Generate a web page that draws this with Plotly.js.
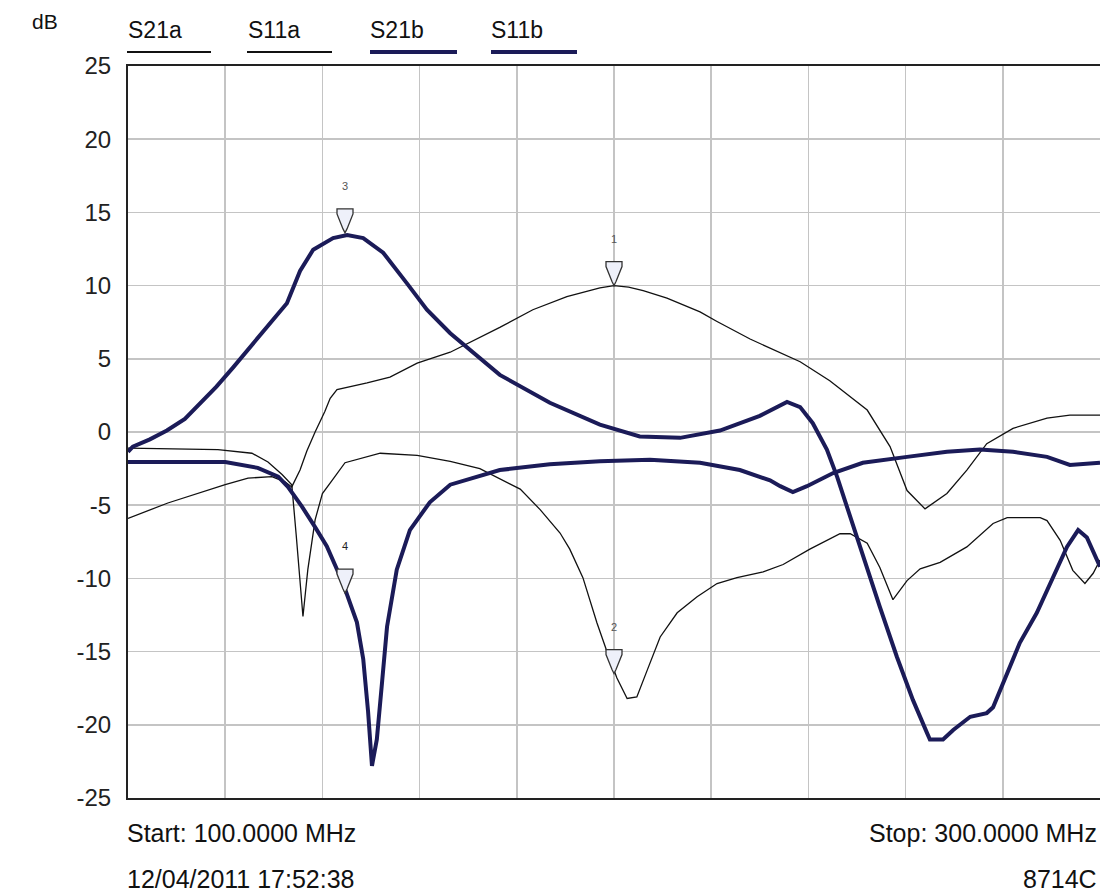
<!DOCTYPE html>
<html>
<head>
<meta charset="utf-8">
<script src="https://cdn.plot.ly/plotly-3.0.1.min.js"></script>
<style>
html,body{margin:0;padding:0;background:#fff;}
#chart{width:1100px;height:893px;}
</style>
</head>
<body>
<div id="chart"></div>
<script>
// ---- data (frequency in MHz, level in dB) ----
const freqS21a = [100.0,108.2,120.0,124.7,129.6,132.3,133.7,135.4,136.8,138.5,140.5,141.6,143.0,149.2,153.9,159.5,166.3,176.5,183.3,190.3,197.1,200.0,203.0,206.0,210.9,217.7,221.2,228.0,238.3,244.4,252.1,256.8,260.3,264.0,268.5,272.6,276.7,282.1,289.1,293.8,300.0];
const dbS21a   = [-5.9,-4.85,-3.6,-3.15,-3.05,-3.4,-3.75,-2.6,-1.3,0.0,1.4,2.3,2.9,3.35,3.75,4.7,5.45,7.15,8.35,9.25,9.85,10.0,9.9,9.65,9.15,8.2,7.55,6.35,4.8,3.5,1.5,-1.0,-4.0,-5.25,-4.2,-2.6,-0.8,0.25,0.95,1.15,1.15];

const freqS11a = [100.0,118.5,125.5,128.8,131.7,133.7,134.6,135.4,136.0,136.5,137.0,138.5,140.0,142.0,144.65,151.9,159.5,166.3,172.4,180.7,184.8,188.9,190.9,193.6,196.5,198.6,200.6,202.7,204.7,206.8,209.5,213.0,217.1,221.2,225.3,230.7,234.8,240.3,246.5,248.6,252.1,254.7,257.4,260.3,263.0,267.1,272.6,278.0,280.9,287.7,289.1,291.8,294.4,296.9,298.6,300.0];
const dbS11a   = [-1.1,-1.2,-1.45,-2.05,-2.9,-3.6,-7.0,-10.0,-12.6,-11.0,-9.4,-6.0,-4.2,-3.3,-2.1,-1.45,-1.6,-2.0,-2.5,-3.9,-5.3,-6.9,-8.0,-9.95,-13.05,-15.05,-16.8,-18.2,-18.1,-16.3,-14.0,-12.35,-11.25,-10.35,-9.95,-9.55,-9.05,-8.0,-6.95,-6.95,-7.6,-9.25,-11.45,-10.15,-9.35,-8.9,-7.85,-6.25,-5.85,-5.85,-6.05,-7.4,-9.45,-10.35,-9.65,-8.75];

const freqS21b = [100.0,101.0,104.5,108.0,111.7,114.8,118.2,121.6,125.1,128.6,132.7,135.4,138.1,142.2,145.1,148.4,152.5,157.4,161.5,166.3,176.5,186.8,197.1,205.3,213.6,221.8,230.0,235.6,238.3,240.9,243.8,245.9,247.9,251.2,254.7,258.2,261.5,264.4,265.0,267.7,269.8,273.3,276.7,278.0,280.9,283.5,287.0,290.3,293.2,295.5,297.3,300.0];
const dbS21b   = [-1.35,-1.0,-0.5,0.1,0.9,1.95,3.1,4.4,5.8,7.15,8.8,11.0,12.45,13.25,13.45,13.25,12.25,10.15,8.35,6.75,3.9,2.0,0.5,-0.3,-0.4,0.1,1.1,2.05,1.7,0.6,-1.2,-3.05,-5.1,-8.5,-11.95,-15.35,-18.3,-20.55,-21.0,-21.0,-20.35,-19.45,-19.2,-18.8,-16.5,-14.4,-12.35,-9.9,-7.85,-6.7,-7.2,-9.2];

const freqS11b = [100.0,120.0,126.7,130.9,132.9,135.8,138.5,140.9,144.2,147.1,148.4,149.4,150.2,151.2,152.3,153.3,155.3,158.0,162.1,166.3,176.5,186.8,197.1,207.4,217.7,225.9,232.1,234.2,236.8,239.7,245.1,251.2,260.3,268.5,275.3,282.1,289.1,293.8,300.0];
const dbS11b   = [-2.05,-2.05,-2.45,-3.05,-3.75,-5.1,-6.5,-7.8,-10.3,-13.0,-15.5,-19.1,-22.8,-21.0,-17.0,-13.3,-9.4,-6.7,-4.8,-3.6,-2.6,-2.2,-2.0,-1.9,-2.1,-2.6,-3.3,-3.7,-4.1,-3.7,-2.8,-2.1,-1.7,-1.35,-1.2,-1.35,-1.7,-2.25,-2.1];

const markerNames = ['1','2','3','4'];
const markerFreq  = [200.0, 200.0, 144.65, 144.65];
const markerDb    = [10.0, -16.5, 13.6, -11.0];

const legendNames = ['S21a','S11a','S21b','S11b'];
const yTickVals   = [-25,-20,-15,-10,-5,0,5,10,15,20,25];
const yTickText   = ['-25','-20','-15','-10','-5','0','5','10','15','20','25'];
const startLabel  = 'Start: 100.0000 MHz';
const stopLabel   = 'Stop: 300.0000 MHz';
const dateLabel   = '12/04/2011 17:52:38';
const modelLabel  = '8714C';
const unitLabel   = 'dB';

// ---- styling / layout ----
const PL = 128, PT = 66, PW = 972, PH = 732;
const px = x => (x - PL) / PW;
const py = y => (PT + PH - y) / PH;
const NAVY = '#1b1b58';
const THIN = {color:'#111111', width:1.3};
const THICK = {color:NAVY, width:4};
const FONT = '"Liberation Sans", Arial, sans-serif';

const traces = [
  {x:freqS21a, y:dbS21a, name:legendNames[0], mode:'lines', line:THIN},
  {x:freqS11a, y:dbS11a, name:legendNames[1], mode:'lines', line:THIN},
  {x:freqS21b, y:dbS21b, name:legendNames[2], mode:'lines', line:THICK},
  {x:freqS11b, y:dbS11b, name:legendNames[3], mode:'lines', line:THICK}
];

const legendPos = [
  {tx:126, l0:127, l1:211, line:{color:'#111', width:2}},
  {tx:246, l0:247, l1:332, line:{color:'#111', width:2}},
  {tx:368, l0:370, l1:457, line:{color:NAVY, width:4}},
  {tx:489, l0:491, l1:577, line:{color:NAVY, width:4}}
];

const shapes = [];
const annotations = [];
legendNames.forEach((n, i) => {
  const p = legendPos[i];
  annotations.push({xref:'paper', yref:'paper', x:px(p.tx), y:py(30), xanchor:'left', yanchor:'middle',
    text:n, showarrow:false, font:{family:FONT, size:23, color:'#111'}});
  shapes.push({type:'line', xref:'paper', yref:'paper', x0:px(p.l0), x1:px(p.l1), y0:py(52), y1:py(52), line:p.line});
});

markerNames.forEach((n, i) => {
  shapes.push({type:'path', xref:'x', yref:'y', xsizemode:'pixel', ysizemode:'pixel',
    xanchor:markerFreq[i], yanchor:markerDb[i],
    path:'M-8,24 L8,24 L8,19 L2,4 L0,0 L-2,4 L-8,19 Z',
    fillcolor:'#eef0fa', line:{color:'#333', width:1.3}, layer:'above'});
  annotations.push({xref:'x', yref:'y', x:markerFreq[i], y:markerDb[i], yshift:47,
    text:n, showarrow:false, font:{family:FONT, size:11, color:(i === 3 ? '#222' : '#555')}});
});

annotations.push(
  {xref:'paper', yref:'paper', x:px(30), y:py(21), xanchor:'left', yanchor:'middle', text:unitLabel, showarrow:false, font:{family:FONT, size:21, color:'#111'}},
  {xref:'paper', yref:'paper', x:px(125), y:py(833), xanchor:'left', yanchor:'middle', text:startLabel, showarrow:false, font:{family:FONT, size:25, color:'#111'}},
  {xref:'paper', yref:'paper', x:px(1099), y:py(833), xanchor:'right', yanchor:'middle', text:stopLabel, showarrow:false, font:{family:FONT, size:25, color:'#111'}},
  {xref:'paper', yref:'paper', x:px(125), y:py(879), xanchor:'left', yanchor:'middle', text:dateLabel, showarrow:false, font:{family:FONT, size:25, color:'#111'}},
  {xref:'paper', yref:'paper', x:px(1099), y:py(879), xanchor:'right', yanchor:'middle', text:modelLabel, showarrow:false, font:{family:FONT, size:25, color:'#111'}}
);

const layout = {
  width:1100, height:893,
  margin:{l:PL, r:0, t:PT, b:893-PT-PH, pad:0},
  paper_bgcolor:'#ffffff', plot_bgcolor:'#ffffff',
  showlegend:false,
  xaxis:{range:[100,300], dtick:20, tick0:100, showticklabels:false, ticks:'',
    showgrid:true, gridcolor:'#c4c4c4', gridwidth:1.5, zeroline:false,
    showline:true, linecolor:'#222', linewidth:2, mirror:true, fixedrange:true},
  yaxis:{range:[-25,25], tickvals:yTickVals, ticktext:yTickText, ticks:'',
    showgrid:true, gridcolor:'#c4c4c4', gridwidth:1.5, zeroline:false,
    showline:true, linecolor:'#222', linewidth:2, mirror:true, fixedrange:true,
    ticklabelstandoff:10, tickfont:{family:FONT, size:24, color:'#222'}},
  shapes:shapes,
  annotations:annotations
};

Plotly.newPlot('chart', traces, layout, {displayModeBar:false, staticPlot:true});
</script>
</body>
</html>
